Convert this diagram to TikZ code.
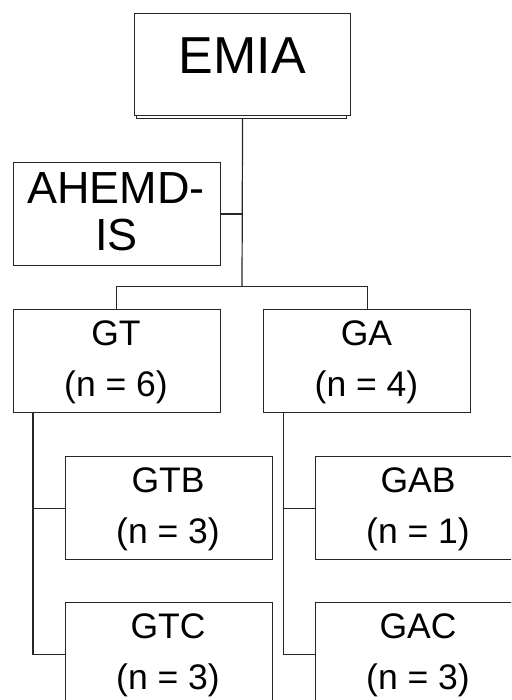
\documentclass[tikz,border=0pt]{standalone}
\usepackage{fontspec}
\setmainfont{Liberation Sans}
\usetikzlibrary{calc}
\begin{document}
\begin{tikzpicture}[x=1pt,y=-1pt,
  box/.style={draw=black!85, line width=1.2pt, rectangle, inner sep=0pt, anchor=north west},
  conn/.style={draw=black!85, line width=1.2pt},
  bigtxt/.style={font=\fontsize{52}{60}\selectfont, anchor=base, inner sep=0pt},
  midtxt/.style={font=\fontsize{45}{52}\selectfont, anchor=base, inner sep=0pt},
  smalltxt/.style={font=\fontsize{35.5}{40}\selectfont, anchor=base, inner sep=0pt}]
\useasboundingbox (0,0) rectangle (511,700);
\clip (0,0) rectangle (511,700);

% boxes
\node[box, minimum width=216.5pt, minimum height=102pt] (emia) at (133.7,13) {};
\node[box, minimum width=207.5pt, minimum height=103pt] (ahemd) at (12.5,162) {};
\node[box, minimum width=207.5pt, minimum height=103pt] (gt) at (12.5,309) {};
\node[box, minimum width=207pt, minimum height=103pt] (ga) at (263,309) {};
\node[box, minimum width=207pt, minimum height=103pt] (gtb) at (64.5,456) {};
\node[box, minimum width=207pt, minimum height=103pt] (gtc) at (64.5,602) {};
\node[box, minimum width=207pt, minimum height=103pt] (gab) at (315,456) {};
\node[box, minimum width=207pt, minimum height=103pt] (gac) at (315,602) {};

% shadow edge under EMIA
\draw[conn, line width=0.9pt] ($(emia.south west)+(2.5,0)$) -- ++(0,2.5) -| ($(emia.south east)+(-4.5,0)$);

% texts
\node[bigtxt] (emiat) at (242.5,74) {EMIA};
\node[midtxt] (ahemdt1) at (115.8,204) {AHEMD-};
\node[midtxt] (ahemdt2) at (116.5,251) {IS};
\node[smalltxt] (gtt1) at (116,345) {GT};
\node[smalltxt] (gtt2) at (116,396.5) {(n = 6)};
\node[smalltxt] (gat1) at (366.5,345) {GA};
\node[smalltxt] (gat2) at (366.5,396.5) {(n = 4)};
\node[smalltxt] (gtbt1) at (168,492) {GTB};
\node[smalltxt] (gtbt2) at (168,543.5) {(n = 3)};
\node[smalltxt] (gtct1) at (168,638) {GTC};
\node[smalltxt] (gtct2) at (168,689.5) {(n = 3)};
\node[smalltxt] (gabt1) at (418,492) {GAB};
\node[smalltxt] (gabt2) at (418,543.5) {(n = 1)};
\node[smalltxt] (gact1) at (418,638) {GAC};
\node[smalltxt] (gact2) at (418,689.5) {(n = 3)};

% connectors
\coordinate (j1) at ($(emia.south)+(0,2.5)$);
\coordinate (bar) at (242,286.5);
\draw[conn] (j1) -- (bar);
\draw[conn] (ahemd.east) -- (ahemd.east -| bar);
\draw[conn] (gt.north) |- (bar) -| (ga.north);
\coordinate (gtv) at ($(gt.south west)+(20.5,0)$);
\coordinate (gav) at ($(ga.south west)+(20.5,0)$);
\draw[conn] (gtv) |- (gtc.west);
\draw[conn] (gtv |- gtb.west) -- (gtb.west);
\draw[conn] (gav) |- (gac.west);
\draw[conn] (gav |- gab.west) -- (gab.west);
\end{tikzpicture}
\end{document}
